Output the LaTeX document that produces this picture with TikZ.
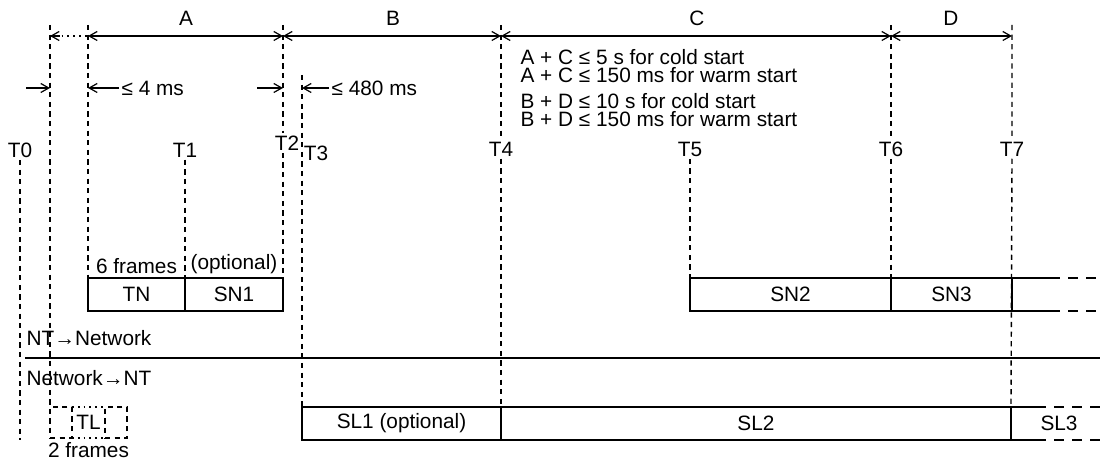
\documentclass[tikz,border=0pt]{standalone}
\usepackage{fontspec}
\setmainfont{Liberation Sans}
\usetikzlibrary{arrows.meta,positioning,calc}

\begin{document}
\begin{tikzpicture}[x=0.5pt, y=-0.5pt, every node/.style={font=\fontsize{10.4}{9}\selectfont, inner sep=1pt}, line width=0.6pt,
  box/.style={draw, minimum height=16.5pt, inner sep=0pt, outer sep=0pt, anchor=north west},
  dbox/.style={draw, tline, minimum height=15.5pt, minimum width=11pt, inner sep=0pt, outer sep=0pt, anchor=north west},
  tline/.style={line width=0.7pt, dash pattern=on 2.6pt off 2.2pt},
  tail/.style={dash pattern=on 5pt off 4pt},
  arr/.style={-{Straight Barb[length=4pt,width=4.5pt]}},
  dim/.style={{Straight Barb[length=4pt,width=4.5pt]}-{Straight Barb[length=4pt,width=4.5pt]}}]
\useasboundingbox (0,0) rectangle (1100,464);
\foreach \n/\x in {0/50,a/88,b/283,c/501,d/891,e/1012}{
  \coordinate (top\n) at (\x,25);
  \coordinate (dim\n) at (\x,36);
}
\coordinate (top3) at (302,75);
\node (T0) at (20,150) {T0};
\node (T1) at (185,150) {T1};
\node (T2) at (287,143) {T2};
\node (T3) at (316,153) {T3};
\node (T4) at (501,149) {T4};
\node (T5) at (690,149) {T5};
\node (T6) at (891,149) {T6};
\node (T7) at (1012,149) {T7};
\node (A) at (186,18) {A};
\node (B) at (393,18) {B};
\node (C) at (697,18) {C};
\node (D) at (951,18) {D};
\node[box, minimum width=48.5pt] (TN) at (88,278) {TN};
\node[box, minimum width=49pt, right=0pt of TN] (SN1) {SN1};
\node[box, minimum width=100.5pt] (SN2) at (690,278) {SN2};
\node[box, minimum width=60.5pt, right=0pt of SN2] (SN3) {SN3};
\node[box, minimum width=99.5pt] (SL1) at (302,407) {SL1 (optional)};
\node[box, minimum width=255pt, right=0pt of SL1] (SL2) {SL2};
\node[minimum width=48pt, minimum height=16.5pt, inner sep=0pt, outer sep=0pt, right=0pt of SL2] (SL3) {SL3};
\node[dbox] (TLa) at (50,407) {};
\node[minimum width=16.5pt, minimum height=15.5pt, inner sep=0pt, outer sep=0pt, right=0pt of TLa] (TL) {TL};
\node[dbox, right=0pt of TL] (TLb) {};
\node[above=1pt of TN] (f6) {6 frames};
\node[above=1pt of SN1] (opt) {(optional)};
\node[below=1pt of TL] (f2) {2 frames};
\node[anchor=west] (up) at (24,338) {NT→Network};
\node[anchor=west] (down) at (24,378) {Network→NT};
\coordinate (divL) at (25,358);
\coordinate (divR) at (1100,358);
\node[anchor=west] (lim4) at (119,88) {≤ 4 ms};
\node[anchor=west] (lim480) at (329,88) {≤ 480 ms};
\node[anchor=west, align=left] (condAC) at (518,66) {A + C ≤ 5 s for cold start\\A + C ≤ 150 ms for warm start};
\node[anchor=west, align=left] (condBD) at (518,110) {B + D ≤ 10 s for cold start\\B + D ≤ 150 ms for warm start};
\coordinate (in0) at (26,88);
\coordinate (in2) at (257,88);
\draw (divL) -- (divR);
\draw[dotted, line width=0.9pt] (dim0) -- (dima);
\draw[arr] ($(dim0)!0.25!(dima)$) -- (dim0);
\draw[dim] (dima) -- (dimb);
\draw[dim] (dimb) -- (dimc);
\draw[dim] (dimc) -- (dimd);
\draw[dim] (dimd) -- (dime);
\draw[arr] (in0) -- (in0 -| top0);
\draw[arr] (lim4.west) -- (lim4.west -| topa);
\draw[arr] (in2) -- (in2 -| topb);
\draw[arr] (lim480.west) -- (lim480.west -| top3);
\draw[tline] (T0.south) -- (T0.south |- SL1.south);
\draw[tline] (top0) -- (TLa.north west);
\draw[tline] (topa) -- (TN.north west);
\draw[tline] (T1.south) -- (TN.north east);
\draw[tline] (topb) -- (topb |- T2.north) (topb |- T2.south) -- (SN1.north east);
\draw[tline] (top3) -- (SL1.north west);
\draw[tline] (topc) -- (topc |- T4.north) (T4.south) -- (SL1.north east);
\draw[tline] (T5.south) -- (SN2.north west);
\draw[tline] (topd) -- (T6.north) (T6.south) -- (SN2.north east);
\draw[tline] (tope) -- (T7.north) (T7.south) -- (SL2.north east);
\draw[dotted, line width=0.9pt] (TL.north west) -- (TL.north east) (TL.south west) -- (TL.south east);
\draw (SN3.north east) -- ++(38,0) coordinate (snt);
\draw (SN3.south east) -- ++(38,0) coordinate (snb);
\draw (SL2.north east) -- ++(25,0) coordinate (slt);
\draw (SL2.south east) -- ++(25,0) coordinate (slb);
\draw[tail] (snt) -- (snt -| divR) (snb) -- (snb -| divR) (slt) -- (slt -| divR) (slb) -- (slb -| divR);
\end{tikzpicture}
\end{document}
